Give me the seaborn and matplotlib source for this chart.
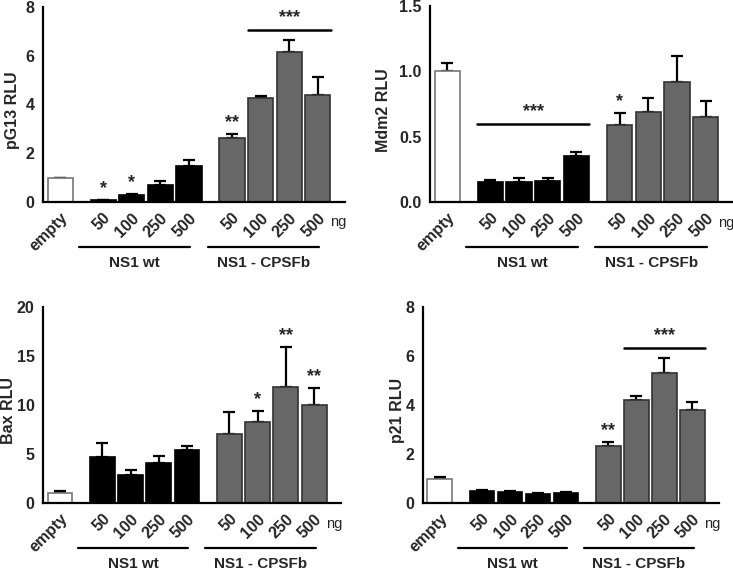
# luciferase reporter panels: empty vector vs NS1 wt vs NS1-CPSFb (mean + SEM)

import numpy as np
import pandas as pd
import matplotlib
matplotlib.use("Agg")
import matplotlib.pyplot as plt
import seaborn as sns

# categories
doses = ["50", "100", "250", "500"]
groups = ["empty"] + ["wt"] * 4 + ["cpsf"] * 4
tick_labels = ["empty"] + doses + doses

# values
pg13_mean = [1.0, 0.07, 0.28, 0.71, 1.46, 2.64, 4.28, 6.14, 4.40]
pg13_err = [0.0, 0.02, 0.05, 0.14, 0.28, 0.15, 0.08, 0.50, 0.72]

mdm2_mean = [1.0, 0.15, 0.155, 0.16, 0.35, 0.59, 0.69, 0.915, 0.65]
mdm2_err = [0.06, 0.02, 0.025, 0.025, 0.035, 0.09, 0.105, 0.205, 0.12]

bax_mean = [1.02, 4.65, 2.85, 4.05, 5.36, 7.0, 8.3, 11.86, 10.0]
bax_err = [0.25, 1.45, 0.55, 0.7, 0.5, 2.25, 1.07, 4.05, 1.7]

p21_mean = [1.0, 0.5, 0.43, 0.37, 0.41, 2.33, 4.2, 5.31, 3.8]
p21_err = [0.05, 0.05, 0.04, 0.03, 0.04, 0.14, 0.18, 0.61, 0.34]

# bar positions: empty, gap, wt x4, gap, cpsf x4
xpos = [0, 1.5, 2.5, 3.5, 4.5, 6, 7, 8, 9]

fill = {"empty": "white", "wt": "black", "cpsf": "#676767"}
edge = {"empty": "#777777", "wt": "black", "cpsf": "#333333"}

FONT = ["Liberation Sans", "DejaVu Sans"]


def panel(ax, means, errs, ylabel, ylab_x, ylim, yticks, ytick_fmt, stars,
          sig_line):
    df = pd.DataFrame({"x": xpos, "val": means, "grp": groups})
    sns.barplot(data=df, x="x", y="val", hue="grp", palette=fill,
                native_scale=True, dodge=False, width=0.88, legend=False,
                errorbar=None, ax=ax, zorder=2)
    for p in ax.patches:
        fc = p.get_facecolor()
        if fc[0] > 0.9:
            p.set_edgecolor(edge["empty"])
        elif fc[0] < 0.1:
            p.set_edgecolor(edge["wt"])
        else:
            p.set_edgecolor(edge["cpsf"])
        p.set_linewidth(1.2)

    ax.errorbar(xpos, means, yerr=[np.zeros(len(errs)), errs], fmt="none",
                ecolor="black", elinewidth=1.6, capsize=4.5, capthick=1.6,
                zorder=1)

    ax.set_xlim(-0.6, 9.95)
    ax.set_ylim(*ylim)
    ax.set_yticks(yticks)
    ax.set_yticklabels([ytick_fmt.format(t) for t in yticks],
                       fontsize=11.5, fontweight="bold", family=FONT)
    ax.set_xticks(xpos)
    ax.set_xticklabels(tick_labels, rotation=45, ha="right",
                       rotation_mode="anchor", fontsize=11.5,
                       fontweight="bold", family=FONT)
    ax.set_xlabel("")
    ax.set_ylabel(ylabel, fontsize=11.5, fontweight="bold", family=FONT)
    ax.yaxis.set_label_coords(ylab_x, 0.47)

    sns.despine(ax=ax)
    for s in ["left", "bottom"]:
        ax.spines[s].set_linewidth(1.6)
        ax.spines[s].set_color("black")
    ax.tick_params(axis="both", direction="out", length=4, width=1.6,
                   color="black", pad=2)
    ax.grid(False)

    # stars above single bars
    top = np.array(means) + np.array(errs)
    span = ylim[1] - ylim[0]
    for i, s in stars:
        ax.text(xpos[i], top[i] + span * 0.015, s, ha="center", va="bottom",
                fontsize=13, fontweight="bold", family=FONT)

    # significance bar over a range of bars
    if sig_line is not None:
        i0, i1, yl, s = sig_line
        ax.plot([xpos[i0] - 0.45, xpos[i1] + 0.45], [yl, yl], color="black",
                lw=1.8, clip_on=False)
        ax.text((xpos[i0] + xpos[i1]) / 2, yl + span * 0.02, s, ha="center",
                va="bottom", fontsize=13, fontweight="bold", family=FONT)

    # group lines and labels under the axis
    trans = ax.get_xaxis_transform()
    for a, b, lab in [(1, 4, "NS1 wt"), (5, 8, "NS1 - CPSFb")]:
        x0, x1 = xpos[a] - 0.85, xpos[b] + 0.05
        ax.plot([x0, x1], [-0.23, -0.23], color="black", lw=1.6,
                transform=trans, clip_on=False)
        ax.text((x0 + x1) / 2, -0.275, lab, transform=trans, ha="center",
                va="top", fontsize=11, fontweight="bold", family=FONT)
    ax.text(9.42, -0.105, "ng", transform=trans, ha="left", va="center",
            fontsize=10.5, family=FONT)


sns.set_theme(style="white")
plt.rcParams["font.family"] = FONT

fig = plt.figure(figsize=(7.33, 5.72), dpi=100)
ax1 = fig.add_axes([43 / 733, 370 / 572, 302 / 733, 195 / 572])
ax2 = fig.add_axes([430 / 733, 370 / 572, 303 / 733, 196 / 572])
ax3 = fig.add_axes([43 / 733, 69 / 572, 298 / 733, 196 / 572])
ax4 = fig.add_axes([423 / 733, 69 / 572, 296 / 733, 196 / 572])

panel(ax1, pg13_mean, pg13_err, "pG13 RLU", -0.075, (0, 8), [0, 2, 4, 6, 8],
      "{:.0f}", [(1, "*"), (2, "*"), (5, "**")], (6, 8, 7.07, "***"))
panel(ax2, mdm2_mean, mdm2_err, "Mdm2 RLU", -0.128, (0, 1.5),
      [0, 0.5, 1.0, 1.5], "{:.1f}", [(5, "*")], (1, 4, 0.6, "***"))
panel(ax3, bax_mean, bax_err, "Bax RLU", -0.092, (0, 20), [0, 5, 10, 15, 20],
      "{:.0f}", [(6, "*"), (7, "**"), (8, "**")], None)
panel(ax4, p21_mean, p21_err, "p21 RLU", -0.062, (0, 8), [0, 2, 4, 6, 8],
      "{:.0f}", [(5, "**")], (6, 8, 6.33, "***"))

fig.savefig("out.png", dpi=100)
